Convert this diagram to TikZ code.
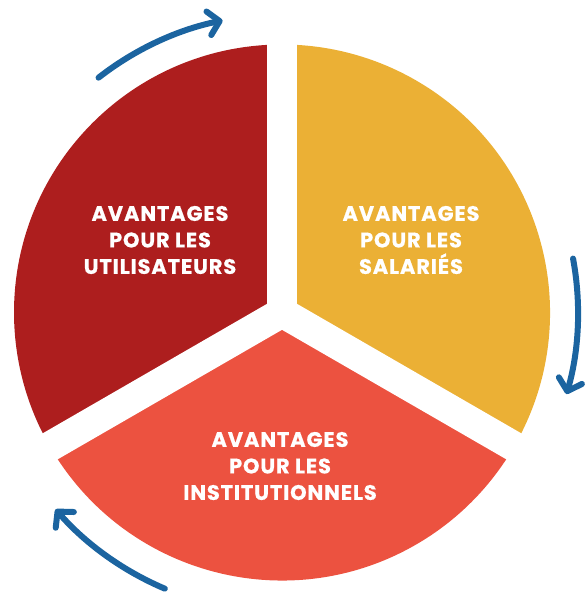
\documentclass[tikz,border=0pt]{standalone}
\usepackage{fontspec}
\setmainfont{Poppins}[BoldFeatures={LetterSpace=4,FakeBold=0.6}]
\usetikzlibrary{arrows.meta,calc}
\definecolor{redsec}{RGB}{173,30,30}
\definecolor{yellowsec}{RGB}{235,176,53}
\definecolor{orangesec}{RGB}{236,82,64}
\definecolor{arrowblue}{RGB}{27,100,160}
\tikzset{
  label/.style={color=white, align=center, font=\fontsize{21}{26.5}\selectfont\bfseries},
  gap/.style={draw=white, line width=30},
  cycle/.style={draw=arrowblue, line width=6, line cap=round,
    -{Straight Barb[length=11,width=24,round]}}
}
\begin{document}
\begin{tikzpicture}[x=1pt,y=1pt]
          \useasboundingbox (0,0) rectangle (587,596);
          \coordinate (O) at (282,283.5);

          \fill[redsec] (O) -- ++(90:268) arc[start angle=90, end angle=210, radius=268] -- cycle;
          \fill[orangesec] (O) -- ++(210:268) arc[start angle=210, end angle=330, radius=268] -- cycle;
          \fill[yellowsec] (O) -- ++(330:268) arc[start angle=-30, end angle=90, radius=268] -- cycle;

          \draw[gap] (O) -- ++(90:285);
          \draw[gap] (O) -- ++(210:285);
          \draw[gap] (O) -- ++(330:285);

          \node[label] (Utilisateurs) at (160,356) {AVANTAGES\\POUR LES\\UTILISATEURS};
          \node[label] (Salaries) at (411,356) {AVANTAGES\\POUR LES\\SALARIÉS};
          \node[label] (Institutionnels) at (280,130) {AVANTAGES\\POUR LES\\INSTITUTIONNELS};

          \coordinate (TopStart) at ($(O)+(128:298)$);
          \coordinate (RightStart) at ($(O)+(10.5:296)$);
          \coordinate (LeftStart) at ($(O)+(247:300)$);

          \draw[cycle] (TopStart) arc[start angle=128, end angle=101.5, radius=298];
          \draw[cycle] (RightStart) arc[start angle=10.5, end angle=-16, radius=296];
          \draw[cycle] (LeftStart) arc[start angle=247, end angle=221, radius=300];
        \end{tikzpicture}
\end{document}
